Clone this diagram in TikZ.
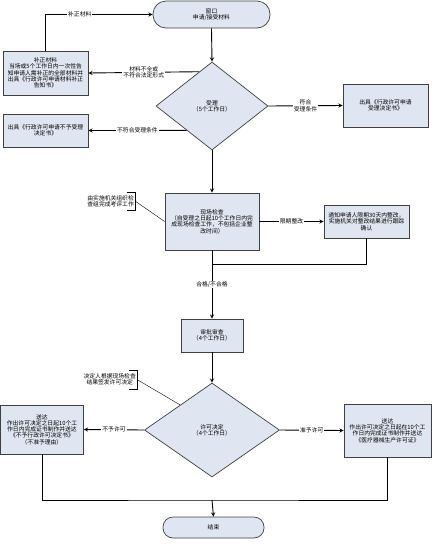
\documentclass[tikz,border=0pt]{standalone}
\usepackage{fontspec}
\usepackage{tikz}
\usetikzlibrary{arrows,shapes,calc}
\newfontfamily\cjk{Noto Sans CJK SC}
\definecolor{boxfill}{RGB}{223,230,242}
\definecolor{boxline}{RGB}{64,64,64}
\tikzstyle{arrow} = [line width=0.9pt,->,>=stealth,color=black]
\tikzstyle{line} = [line width=0.9pt,color=black]
\tikzstyle{box} = [draw=boxline,line width=0.7pt,fill=boxfill,align=center,inner sep=1pt,font=\cjk\fontsize{5.8}{6.3}\selectfont]
\tikzstyle{dec} = [box,diamond,inner sep=0pt]
\tikzstyle{lbl} = [fill=white,inner sep=1pt,align=center,font=\cjk\fontsize{5.8}{6.3}\selectfont]
\tikzstyle{note} = [align=center,inner sep=1pt,font=\cjk\fontsize{5.8}{6.3}\selectfont]

\begin{document}
\begin{tikzpicture}[x=1pt,y=-1pt]
\useasboundingbox (0,0) rectangle (439,552);
% start and acceptance
\node[box,rounded corners=13pt,minimum width=117pt,minimum height=27pt] (ck) at (211.5,14.5) {窗口\\申请/接受材料};
\node[dec,minimum width=112pt,minimum height=88pt] (sl) at (212,106) {受理\\（5个工作日）};
\node[box,minimum width=85pt,minimum height=44pt] (bz) at (45.5,73) {补正材料\\当场或5个工作日内一次性告\\知申请人需补正的全部材料并\\出具《行政许可申请材料补正\\告知书》};
\node[box,minimum width=85pt,minimum height=33pt] (bj) at (45.5,130.5) {出具《行政许可申请不予受理\\决定书》};
\node[box,minimum width=85pt,minimum height=43pt] (sj) at (385.5,105.5) {出具《行政许可申请\\受理决定书》};
% inspection
\node[box,minimum width=94pt,minimum height=57pt] (xc) at (212,221.5) {现场检查\\（自受理之日起10个工作日内完\\成现场检查工作，不包括企业整\\改时间）};
\node[box,minimum width=85pt,minimum height=33pt] (zg) at (366.5,221.5) {通知申请人限期30天内整改，\\实施机关对整改结果进行跟踪\\确认};
\node[note,anchor=east,minimum height=18pt] (n1) at (135,201) {由实施机关组织检\\查组完成考评工作};
\node[box,minimum width=62pt,minimum height=33pt] (sp) at (212,335.5) {审批审查\\（4个工作日）};
% decision
\node[dec,minimum width=135pt,minimum height=94pt] (xk) at (212,430) {许可决定\\（4个工作日）};
\node[note,anchor=east,minimum height=19pt] (n2) at (137,379.5) {决定人根据现场检查\\结果签发许可决定};
\node[box,minimum width=83pt,minimum height=49pt] (bd) at (42,429.5) {送达\\作出许可决定之日起10个工\\作日内完成证书制作并送达\\《不予行政许可决定书》\\（不准予理由）};
\node[box,minimum width=87pt,minimum height=53pt] (zd) at (387.5,430.5) {送达\\作出许可决定之日起在10个工\\作日内完成证书制作并送达\\《医疗器械生产许可证》};
\node[box,rounded corners=10pt,minimum width=101pt,minimum height=21pt] (js) at (213.5,527.5) {结束};
\coordinate (hb) at (212,264);
\coordinate (hj) at (212,500);

% connectors
\draw[arrow] (ck.south) -- (sl.north);
\draw[arrow] ($(sl.north)!0.227!(sl.west)$) -- node[lbl]{材料不全或\\不符合法定形式} (bz.east);
\draw[arrow] (bz.north) |- node[lbl,pos=0.66]{补正材料} (ck.west);
\draw[arrow] ($(sl.west)!0.55!(sl.south)$) -- node[lbl]{不符合受理条件} (bj.east);
\draw[arrow] (sl.east) -- node[lbl]{符合\\受理条件} (sj.west);
\draw[arrow] (sl.south) -- (xc.north);
\draw[arrow] (xc.east) -- node[lbl]{限期整改} (zg.west);
\draw[line] (zg.south) |- (hb);
\draw[arrow] (xc.south) -- node[lbl]{合格/不合格} (sp.north);
\draw[arrow] (sp.south) -- (xk.north);
\draw[arrow] (xk.west) -- node[lbl]{不予许可} (bd.east);
\draw[arrow] (xk.east) -- node[lbl]{准予许可} (zd.west);
\draw[line] (bd.south) |- (hj) -| (zd.south);
\draw[arrow] (hj) -- (js.north);
% notes
\draw[thin] ([xshift=-8pt]n1.north east) -- (n1.north east) -- (n1.south east) -- ([xshift=-8pt]n1.south east);
\draw[thin] (n1.east) -- (xc.west);
\draw[thin] ([xshift=-8pt]n2.north east) -- (n2.north east) -- (n2.south east) -- ([xshift=-8pt]n2.south east);
\draw[thin] (n2.east) -- ($(xk.north)!0.47!(xk.west)$);
\end{tikzpicture}
\end{document}
